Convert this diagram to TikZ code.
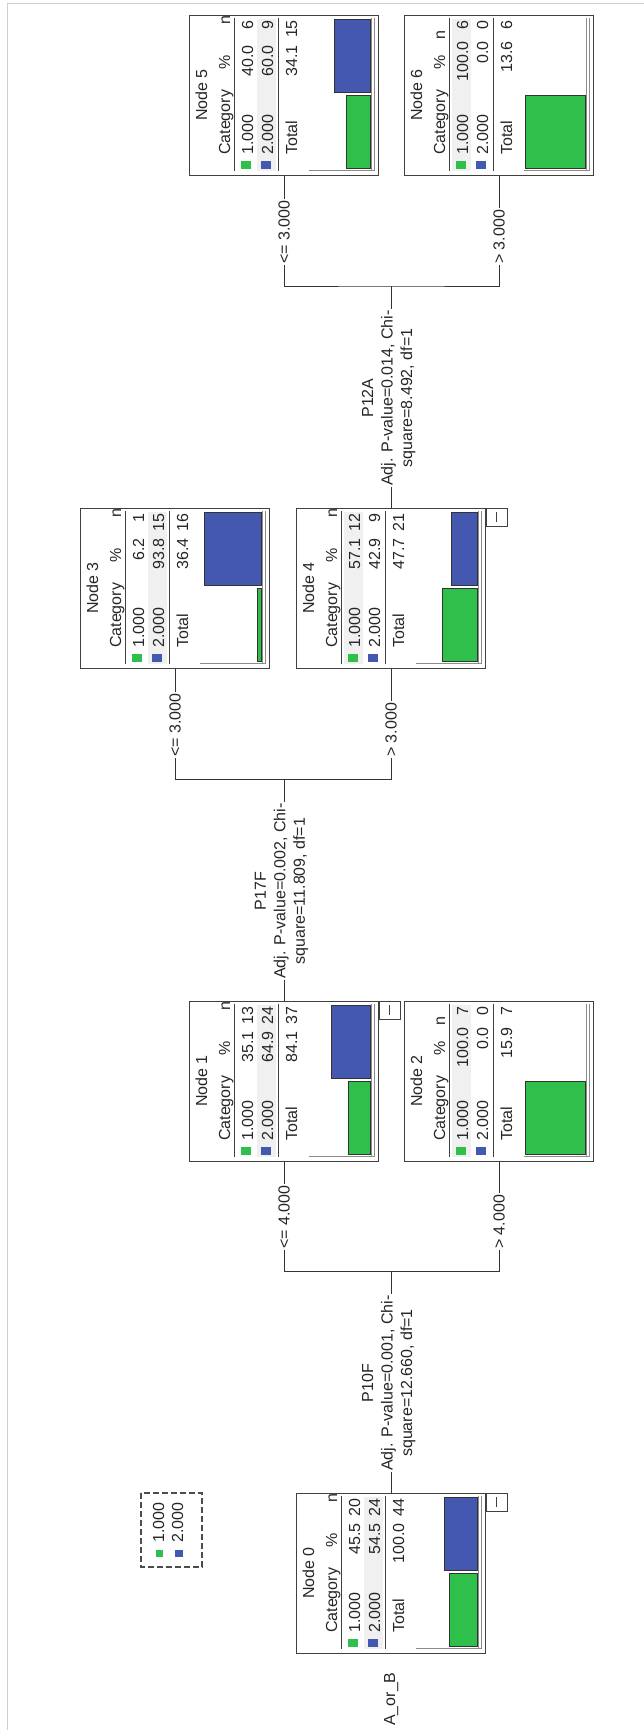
\documentclass[tikz,border=0pt]{standalone}
\usepackage{fontspec}
\setmainfont{Liberation Sans}
\usepackage{tikz}
\definecolor{CatGreen}{HTML}{2FBF4B}
\definecolor{CatBlue}{HTML}{4358AE}
\definecolor{RowGray}{HTML}{F0F0F0}
\definecolor{FrameGray}{HTML}{CFCFCF}
\definecolor{AxisGray}{HTML}{8C8C8C}

\begin{document}
\begin{tikzpicture}[x=1pt, y=-1pt,
  every node/.style={font=\fontsize{16}{19.5}\selectfont, text=black!85},
  txt/.style={rotate=90, inner sep=0pt},
  catbox/.style={draw=black!75, line width=1.2pt, minimum width=189pt, minimum height=160pt, anchor=north west, inner sep=0pt},
  rule/.style={draw=black!75, line width=1pt},
  bar/.style={draw=black!80, line width=1pt},
  axis/.style={draw=AxisGray, line width=1pt},
  btn/.style={draw=black!75, line width=1pt},
  wire/.style={draw=black!80, line width=1pt},
  cond/.style={txt, fill=white, anchor=west, inner xsep=1.5pt, inner ysep=0.5pt},
  split/.style={rotate=90, fill=white, align=center, inner sep=1pt},
  keyline/.style={draw=black!70, line width=1.2pt, dash pattern=on 6pt off 3pt}]
  \useasboundingbox (0,0) rectangle (644,1730);
  \draw[FrameGray] (644,3) -- (7,3) -- (7,1730);
  \foreach \nm/\bx/\by/\num/\pa/\na/\pb/\nb/\pt/\nt in {
      n0/296/1493/0/45.5/20/54.5/24/100.0/44,
      n1/189/1001/1/35.1/13/64.9/24/84.1/37,
      n2/404/1001/2/100.0/7/0.0/0/15.9/7,
      n3/80/508/3/6.2/1/93.8/15/36.4/16,
      n4/296/508/4/57.1/12/42.9/9/47.7/21,
      n5/189/15/5/40.0/6/60.0/9/34.1/15,
      n6/404/15/6/100.0/6/0.0/0/13.6/6}{
    \pgfmathsetmacro{\hl}{\pa>\pb ? 48 : 68}
    \pgfmathsetmacro{\pe}{\nt<10 ? 26 : 30}
    \pgfmathsetmacro{\nh}{\nt<10 ? 15 : 0}
    \pgfmathsetmacro{\la}{0.6*\pa}
    \pgfmathsetmacro{\lb}{0.6*\pb}
    \node[catbox] (\nm) at (\bx,\by) {};
    \begin{scope}[shift={(\bx,\by)}]
      \fill[RowGray] (\hl,4) rectangle ++(19,152);
      \draw[rule] (45,3) -- (45,156) (89,3) -- (89,156);
      \node[txt, anchor=base] (\nm-title) at (18,80) {Node \num};
      \node[txt, anchor=base west] (\nm-cat) at (41,140) {Category};
      \node[txt, anchor=base] (\nm-pc) at (41,47) {\%};
      \node[txt, anchor=base east] (\nm-n) at (41,\nh) {n};
      \foreach \row/\bl/\lab/\p/\cnt in {1/64/1.000/\pa/\na, 2/84/2.000/\pb/\nb, 3/108/Total/\pt/\nt}{
        \node[txt, anchor=base west] (\nm-l\row) at (\bl,140) {\lab};
        \node[txt, anchor=base east] (\nm-p\row) at (\bl,\pe) {\p};
        \node[txt, anchor=base east] (\nm-c\row) at (\bl,5) {\cnt};
      }
      \fill[CatGreen] (52,146) rectangle (62,154);
      \fill[CatBlue] (72,146) rectangle (82,154);
      \ifdim\la pt>0pt \filldraw[bar, fill=CatGreen] (181-\la,80) rectangle (181,153); \fi
      \ifdim\lb pt>0pt \filldraw[bar, fill=CatBlue] (181-\lb,4) rectangle (181,77); \fi
      \draw[axis] (120,155.5) -- (185,155.5) (182,3) -- (182,156) (185,3) -- (185,156);
    \end{scope}
  }
  \foreach \b in {n0,n1,n4}{
    \draw[btn] (\b.north east) rectangle ++(21,18);
    \draw[btn] ([xshift=10.5pt,yshift=-4pt]\b.north east) -- ++(0,10);
  }
  \coordinate (s0) at ([yshift=222pt]n0.north);
  \coordinate (s1) at ([yshift=222pt]n1.north);
  \coordinate (s2) at ([yshift=222pt]n4.north);
  \draw[wire] (n0.north) -- (s0) (n1.south) |- (s0) -| (n2.south);
  \draw[wire] (n1.north) -- (s1) (n3.south) |- (s1) -| (n4.south);
  \draw[wire] (n4.north) -- (s2) (n5.south) |- (s2) -| (n6.south);
  \foreach \sp/\lo/\hi/\v in {s0/n1/n2/4.000, s1/n3/n4/3.000, s2/n5/n6/3.000}{
    \path (\lo.south |- \sp) coordinate (\sp a) (\hi.south |- \sp) coordinate (\sp b);
    \node[cond] (\sp-le) at ([yshift=20.5pt]\sp a) {<= \v};
    \node[cond] (\sp-gt) at ([yshift=20.5pt]\sp b) {> \v};
  }
  \node[split] (t0) at ([xshift=-2.5pt,yshift=110pt]n0.north) {P10F\\Adj. P-value=0.001, Chi-\\square=12.660, df=1};
  \node[split] (t1) at ([xshift=-2.5pt,yshift=110pt]n1.north) {P17F\\Adj. P-value=0.002, Chi-\\square=11.809, df=1};
  \node[split] (t2) at ([xshift=-2.5pt,yshift=110pt]n4.north) {P12A\\Adj. P-value=0.014, Chi-\\square=8.492, df=1};
  \draw[keyline] (141,1493) rectangle (202,1567);
  \fill[CatGreen] (156,1550) rectangle (163,1557);
  \fill[CatBlue] (175,1550) rectangle (183,1557);
  \node[txt, anchor=base west] (key1) at (164,1543) {1.000};
  \node[txt, anchor=base west] (key2) at (183,1543) {2.000};
  \node[txt, anchor=base] (dep) at (395,1699) {A\_or\_B};
\end{tikzpicture}
\end{document}
